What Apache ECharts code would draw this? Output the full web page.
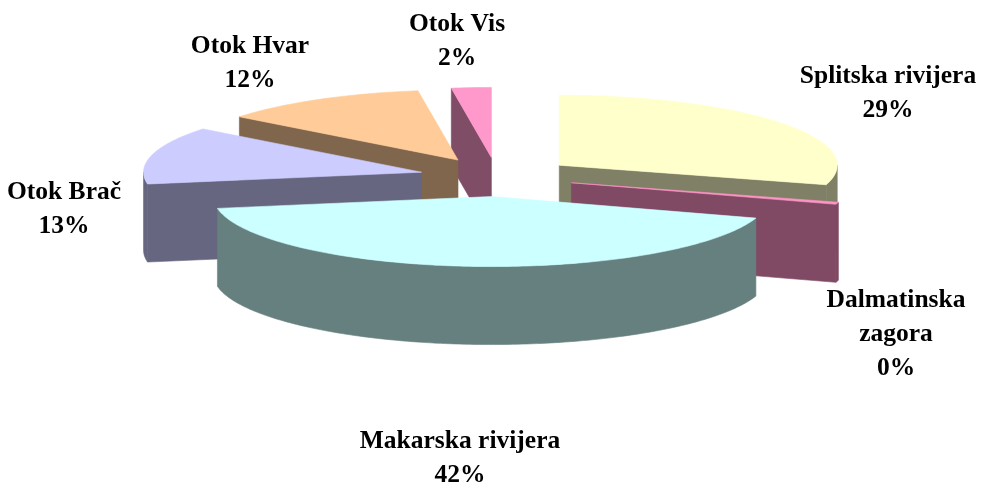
<!DOCTYPE html>
<html>
<head>
<meta charset="utf-8">
<script src="https://cdn.jsdelivr.net/npm/echarts@6/dist/echarts.min.js"></script>
<style>
  html, body { margin: 0; padding: 0; background: #fff; }
  #chart { width: 984px; height: 485px; }
</style>
</head>
<body>
<div id="chart"></div>
<script>
// data
const regions = ['Splitska rivijera', 'Dalmatinska\nzagora', 'Makarska rivijera', 'Otok Brač', 'Otok Hvar', 'Otok Vis'];
const shares = [29.49, 0.49, 42.3, 13.3, 12.1, 2.3];
const topColors = ['#FFFFCC', '#FF94C8', '#CCFFFF', '#CCCCFF', '#FFCC99', '#FF99CC'];

// 3d pie layout (px)
const cx = 497, cy = 177, rx = 278, ry = 70, depth = 78, explode = 0.28;
const labelAt = [[888, 93], [896, 334], [460, 458], [64, 209], [250, 63], [457, 41]];

const total = shares.reduce((a, b) => a + b, 0);
let acc = 0;
const slices = shares.map(v => {
  const a = acc / total * 360;
  acc += v;
  const b = acc / total * 360;
  return { a: a, b: b, m: (a + b) / 2 };
});

const rad = d => d * Math.PI / 180;
// back slices first
const order = slices.map((s, i) => i).sort((p, q) => Math.cos(rad(slices[q].m)) - Math.cos(rad(slices[p].m)));
const rank = [];
order.forEach((idx, r) => { rank[idx] = r; });

function darken(hex) {
  const n = parseInt(hex.slice(1), 16);
  const c = [(n >> 16) & 255, (n >> 8) & 255, n & 255].map(x => Math.round(x * 0.5));
  return 'rgb(' + c.join(',') + ')';
}

function poly(points, color, z) {
  return { type: 'polygon', z2: z, shape: { points: points }, style: { fill: color, stroke: color, lineWidth: 0.6 } };
}

function renderItem(params, api) {
  const i = params.dataIndex;
  const s = slices[i];
  const ox = cx + explode * rx * Math.sin(rad(s.m));
  const oy = cy - explode * ry * Math.cos(rad(s.m));
  const pt = (d, dh) => [ox + rx * Math.sin(rad(d)), oy - ry * Math.cos(rad(d)) + (dh || 0)];
  const arc = (from, to, dh) => {
    const pts = [];
    const n = Math.max(2, Math.ceil(to - from));
    for (let k = 0; k <= n; k++) pts.push(pt(from + (to - from) * k / n, dh));
    return pts;
  };
  const top = topColors[i], side = darken(top);
  const z = rank[i] * 10;
  const children = [];
  // cut faces turned towards the viewer
  if (Math.sin(rad(s.a)) < -1e-6) children.push(poly([[ox, oy], pt(s.a), pt(s.a, depth), [ox, oy + depth]], side, z + 1));
  if (Math.sin(rad(s.b)) > 1e-6) children.push(poly([[ox, oy], pt(s.b), pt(s.b, depth), [ox, oy + depth]], side, z + 1));
  // outer wall, front half only
  const lo = Math.max(s.a, 90), hi = Math.min(s.b, 270);
  if (hi > lo) children.push(poly(arc(lo, hi, 0).concat(arc(lo, hi, depth).reverse()), side, z + 2));
  // top
  children.push(poly([[ox, oy]].concat(arc(s.a, s.b, 0)), top, z + 3));
  // label
  const pct = Math.round(api.value(0) / total * 100) + '%';
  children.push({
    type: 'text', z2: 200,
    style: {
      text: regions[i] + '\n' + pct,
      x: labelAt[i][0], y: labelAt[i][1],
      align: 'center', verticalAlign: 'middle',
      fontFamily: '"Liberation Serif", "Times New Roman", serif',
      fontWeight: 'bold', fontSize: 25.5, lineHeight: 34,
      fill: '#000'
    }
  });
  return { type: 'group', children: children };
}

const chart = echarts.init(document.getElementById('chart'));
chart.setOption({
  animation: false,
  series: [{
    type: 'custom',
    coordinateSystem: 'none',
    silent: true,
    renderItem: renderItem,
    data: shares.map(v => [v])
  }]
});
</script>
</body>
</html>
